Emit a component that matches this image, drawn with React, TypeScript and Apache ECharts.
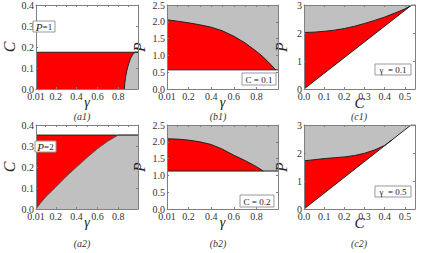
import React, { useEffect, useRef } from "react";
import * as echarts from "echarts";

// ---- tick labels ----
const gammaTicks = [0.01, 0.2, 0.4, 0.6, 0.8];
const gammaMinor = [0.1, 0.2, 0.3, 0.4, 0.5, 0.6, 0.7, 0.8, 0.9];
const cTicks = [0, 0.1, 0.2, 0.3, 0.4, 0.5];
const captions = ["(a1)", "(b1)", "(c1)", "(a2)", "(b2)", "(c2)"];
const boxLabels = ["{i|P}=1", "C = 0.1", "γ  = 0.1", "{i|P}=2", "C = 0.2", "γ  = 0.5"];

// ---- panel (a1): P = 1 ----
const a1Level = 0.175;
const a1Boundary: [number, number][] = [
  [0.858, 0], [0.864, 0.03], [0.872, 0.06], [0.884, 0.09], [0.9, 0.12],
  [0.918, 0.145], [0.938, 0.163], [0.96, 0.175], [0.99, 0.175],
];
// ---- panel (a2): P = 2 ----
const a2Level = 0.352;
const a2Boundary: [number, number][] = [
  [0.01, 0], [0.05, 0.026], [0.1, 0.056], [0.2, 0.105], [0.3, 0.155], [0.4, 0.2],
  [0.5, 0.245], [0.6, 0.287], [0.7, 0.323], [0.8, 0.352], [0.99, 0.352],
];
// ---- panel (b1): C = 0.1 ----
const b1Level = 0.57;
const b1Boundary: [number, number][] = [
  [0.01, 2.06], [0.1, 2.02], [0.2, 1.97], [0.3, 1.91], [0.4, 1.84], [0.5, 1.73],
  [0.6, 1.57], [0.7, 1.37], [0.8, 1.12], [0.85, 0.98], [0.9, 0.82], [0.97, 0.57],
];
// ---- panel (b2): C = 0.2 ----
const b2Level = 1.13;
const b2Boundary: [number, number][] = [
  [0.01, 2.09], [0.1, 2.08], [0.2, 2.05], [0.3, 2.0], [0.4, 1.92], [0.5, 1.78],
  [0.6, 1.6], [0.7, 1.44], [0.8, 1.26], [0.86, 1.13],
];
// ---- panel (c1): gamma = 0.1 ----
const c1Diagonal: [number, number][] = [[0, 0], [0.534, 3], [0.55, 3]];
const c1Boundary: [number, number][] = [
  [0, 2.02], [0.05, 2.03], [0.1, 2.06], [0.15, 2.1], [0.2, 2.16], [0.25, 2.24],
  [0.3, 2.34], [0.35, 2.45], [0.4, 2.57], [0.45, 2.71], [0.5, 2.86], [0.534, 3],
];
// ---- panel (c2): gamma = 0.5 ----
const c2Diagonal: [number, number][] = [[0, 0], [0.53, 3], [0.55, 3]];
const c2Boundary: [number, number][] = [
  [0, 1.72], [0.05, 1.76], [0.1, 1.8], [0.15, 1.83], [0.2, 1.86], [0.25, 1.91],
  [0.3, 1.99], [0.35, 2.11], [0.4, 2.27], [0.435, 2.46],
];

const RED = "#ff0000";
const GRAY = "#c0c0c0";
const LINE = "#222";
const FRAME = "#808080";
const SERIF = "Liberation Serif";

const GW = 111;
const GH = 84;
const LEFTS = [27, 167, 304];
const TOPS = [5, 125];

export default function App() {
  const ref = useRef<HTMLDivElement>(null);
  useEffect(() => {
    document.body.style.margin = "0";
    if (!ref.current) return;
    const chart = echarts.init(ref.current, null, { renderer: "svg" });

    const grids: any[] = [];
    const xAxes: any[] = [];
    const yAxes: any[] = [];
    const series: any[] = [];

    type Kind = "a" | "b" | "c";
    const kinds: Kind[] = ["a", "b", "c", "a", "b", "c"];

    const labelStyle = { fontFamily: SERIF, fontSize: 10, color: "#333", margin: 2 };
    const nameStyle = { fontFamily: SERIF, fontStyle: "italic", fontSize: 14, color: "#222" };

    kinds.forEach((k, i) => {
      const col = i % 3;
      const row = Math.floor(i / 3);
      grids.push({ left: LEFTS[col], top: TOPS[row], width: GW, height: GH, containLabel: false });
      const isGamma = k !== "c";
      const xMin = isGamma ? 0.01 : 0;
      const xMax = isGamma ? 0.99 : 0.55;
      const xTicks = isGamma ? gammaTicks : cTicks;
      xAxes.push({
        type: "value", gridIndex: i, min: xMin, max: xMax, z: 10,
        position: "bottom",
        name: isGamma ? "γ" : "C", nameLocation: "middle", nameGap: isGamma ? 6 : 6,
        nameMoveOverlap: false,
        nameTextStyle: { ...nameStyle, fontSize: isGamma ? 14 : 15, verticalAlign: "top" },
        axisLine: { show: true, onZero: false, lineStyle: { color: FRAME, width: 1 } },
        axisTick: { show: true, customValues: xTicks, length: 2, inside: true, lineStyle: { color: FRAME } },
        axisLabel: {
          ...labelStyle, customValues: xTicks,
          formatter: (v: number) => (Math.abs(v - 0.01) < 1e-9 ? "0.01" : v.toFixed(1)),
        },
        splitLine: { show: false },
      });
      const yMax = k === "a" ? 0.4 : k === "b" ? 2.5 : 3;
      const yInt = k === "a" ? 0.1 : k === "b" ? 0.5 : 1;
      yAxes.push({
        type: "value", gridIndex: i, min: 0, max: yMax, interval: yInt, z: 10,
        position: "left",
        name: k === "a" ? "C" : "P", nameLocation: "middle",
        nameGap: k === "a" ? 19 : k === "b" ? 20 : 15, nameRotate: 90,
        nameMoveOverlap: false,
        nameTextStyle: { ...nameStyle, fontSize: 16 },
        axisLine: { show: true, onZero: false, lineStyle: { color: FRAME, width: 1 } },
        axisTick: { show: true, length: 2, inside: true, lineStyle: { color: FRAME } },
        axisLabel: { ...labelStyle, formatter: (v: number) => (k === "c" ? v.toFixed(0) : v.toFixed(1)) },
        splitLine: { show: false },
      });
    });
    // mirrored top / right frame axes with inward ticks
    kinds.forEach((k, i) => {
      const isGamma = k !== "c";
      xAxes.push({
        type: "value", gridIndex: i, min: isGamma ? 0.01 : 0, max: isGamma ? 0.99 : 0.55, z: 10,
        position: "top",
        axisLine: { show: true, onZero: false, lineStyle: { color: FRAME, width: 1 } },
        axisTick: { show: true, inside: true, length: 2, customValues: isGamma ? gammaMinor : cTicks, lineStyle: { color: FRAME } },
        axisLabel: { show: false },
        splitLine: { show: false },
      });
      const yMax = k === "a" ? 0.4 : k === "b" ? 2.5 : 3;
      const yInt = k === "a" ? 0.1 : k === "b" ? 0.5 : 1;
      yAxes.push({
        type: "value", gridIndex: i, min: 0, max: yMax, interval: yInt, z: 10,
        position: "right",
        axisLine: { show: true, onZero: false, lineStyle: { color: FRAME, width: 1 } },
        axisTick: { show: true, inside: true, length: 2, lineStyle: { color: FRAME } },
        axisLabel: { show: false },
        splitLine: { show: false },
      });
    });

    const area = (i: number, data: [number, number][], fill: string, stroke: string, width = 1) => {
      series.push({
        type: "line", xAxisIndex: i, yAxisIndex: i, data, symbol: "none", silent: true,
        lineStyle: { color: stroke, width },
        areaStyle: { color: fill, opacity: 1 },
      });
    };

    // (a1)
    area(0, [[0.01, a1Level], [0.99, a1Level]], RED, LINE);
    area(0, a1Boundary, GRAY, LINE);
    // (b1)
    area(1, [[0.01, 2.5], [0.99, 2.5]], GRAY, GRAY, 0);
    area(1, b1Boundary, RED, LINE);
    area(1, [[0.01, b1Level], [0.99, b1Level]], "#ffffff", LINE);
    // (c1)
    area(2, [[0, 3], [0.55, 3]], GRAY, GRAY, 0);
    area(2, c1Boundary, RED, LINE);
    area(2, c1Diagonal, "#ffffff", LINE);
    // (a2)
    area(3, [[0.01, a2Level], [0.99, a2Level]], RED, LINE);
    area(3, a2Boundary, GRAY, "#555");
    // (b2)
    area(4, [[0.01, 2.5], [0.99, 2.5]], GRAY, GRAY, 0);
    area(4, b2Boundary, RED, LINE);
    area(4, [[0.01, b2Level], [0.99, b2Level]], "#ffffff", LINE);
    // (c2)
    area(5, [[0, 3], [0.55, 3]], GRAY, GRAY, 0);
    area(5, c2Boundary, RED, LINE);
    area(5, c2Diagonal, "#ffffff", LINE);

    const capX = [82, 218, 359];
    const capY = [116, 243];
    const graphic: any[] = [];
    captions.forEach((c, i) => {
      graphic.push({
        type: "text", x: capX[i % 3], y: capY[Math.floor(i / 3)], z: 20,
        style: { text: c, fontFamily: SERIF, fontStyle: "italic", fontSize: 10, fill: "#333", align: "center", verticalAlign: "middle" },
      });
    });
    const boxes = [
      { x: 33, y: 21, w: 22, h: 11 },
      { x: 242, y: 73, w: 34, h: 12 },
      { x: 375, y: 64, w: 36, h: 11 },
      { x: 35, y: 141, w: 21, h: 11 },
      { x: 240, y: 195, w: 34, h: 12 },
      { x: 375, y: 186, w: 36, h: 11 },
    ];
    boxes.forEach((b, i) => {
      graphic.push({
        type: "rect", z: 20, shape: { x: b.x, y: b.y, width: b.w, height: b.h },
        style: { fill: "#ffffff", stroke: "#999", lineWidth: 1 },
      });
      graphic.push({
        type: "text", z: 21, x: b.x + b.w / 2, y: b.y + b.h / 2 + 0.5,
        style: {
          text: boxLabels[i], fontFamily: SERIF, fontSize: 9, fill: "#222",
          align: "center", verticalAlign: "middle",
          rich: { i: { fontStyle: "italic", fontFamily: SERIF, fontSize: 11, fill: "#222" } },
        },
      });
    });

    chart.setOption({
      animation: false,
      backgroundColor: "#ffffff",
      grid: grids,
      xAxis: xAxes,
      yAxis: yAxes,
      series,
      graphic,
    });
    return () => chart.dispose();
  }, []);
  return <div ref={ref} style={{ width: 422, height: 253 }} />;
}
